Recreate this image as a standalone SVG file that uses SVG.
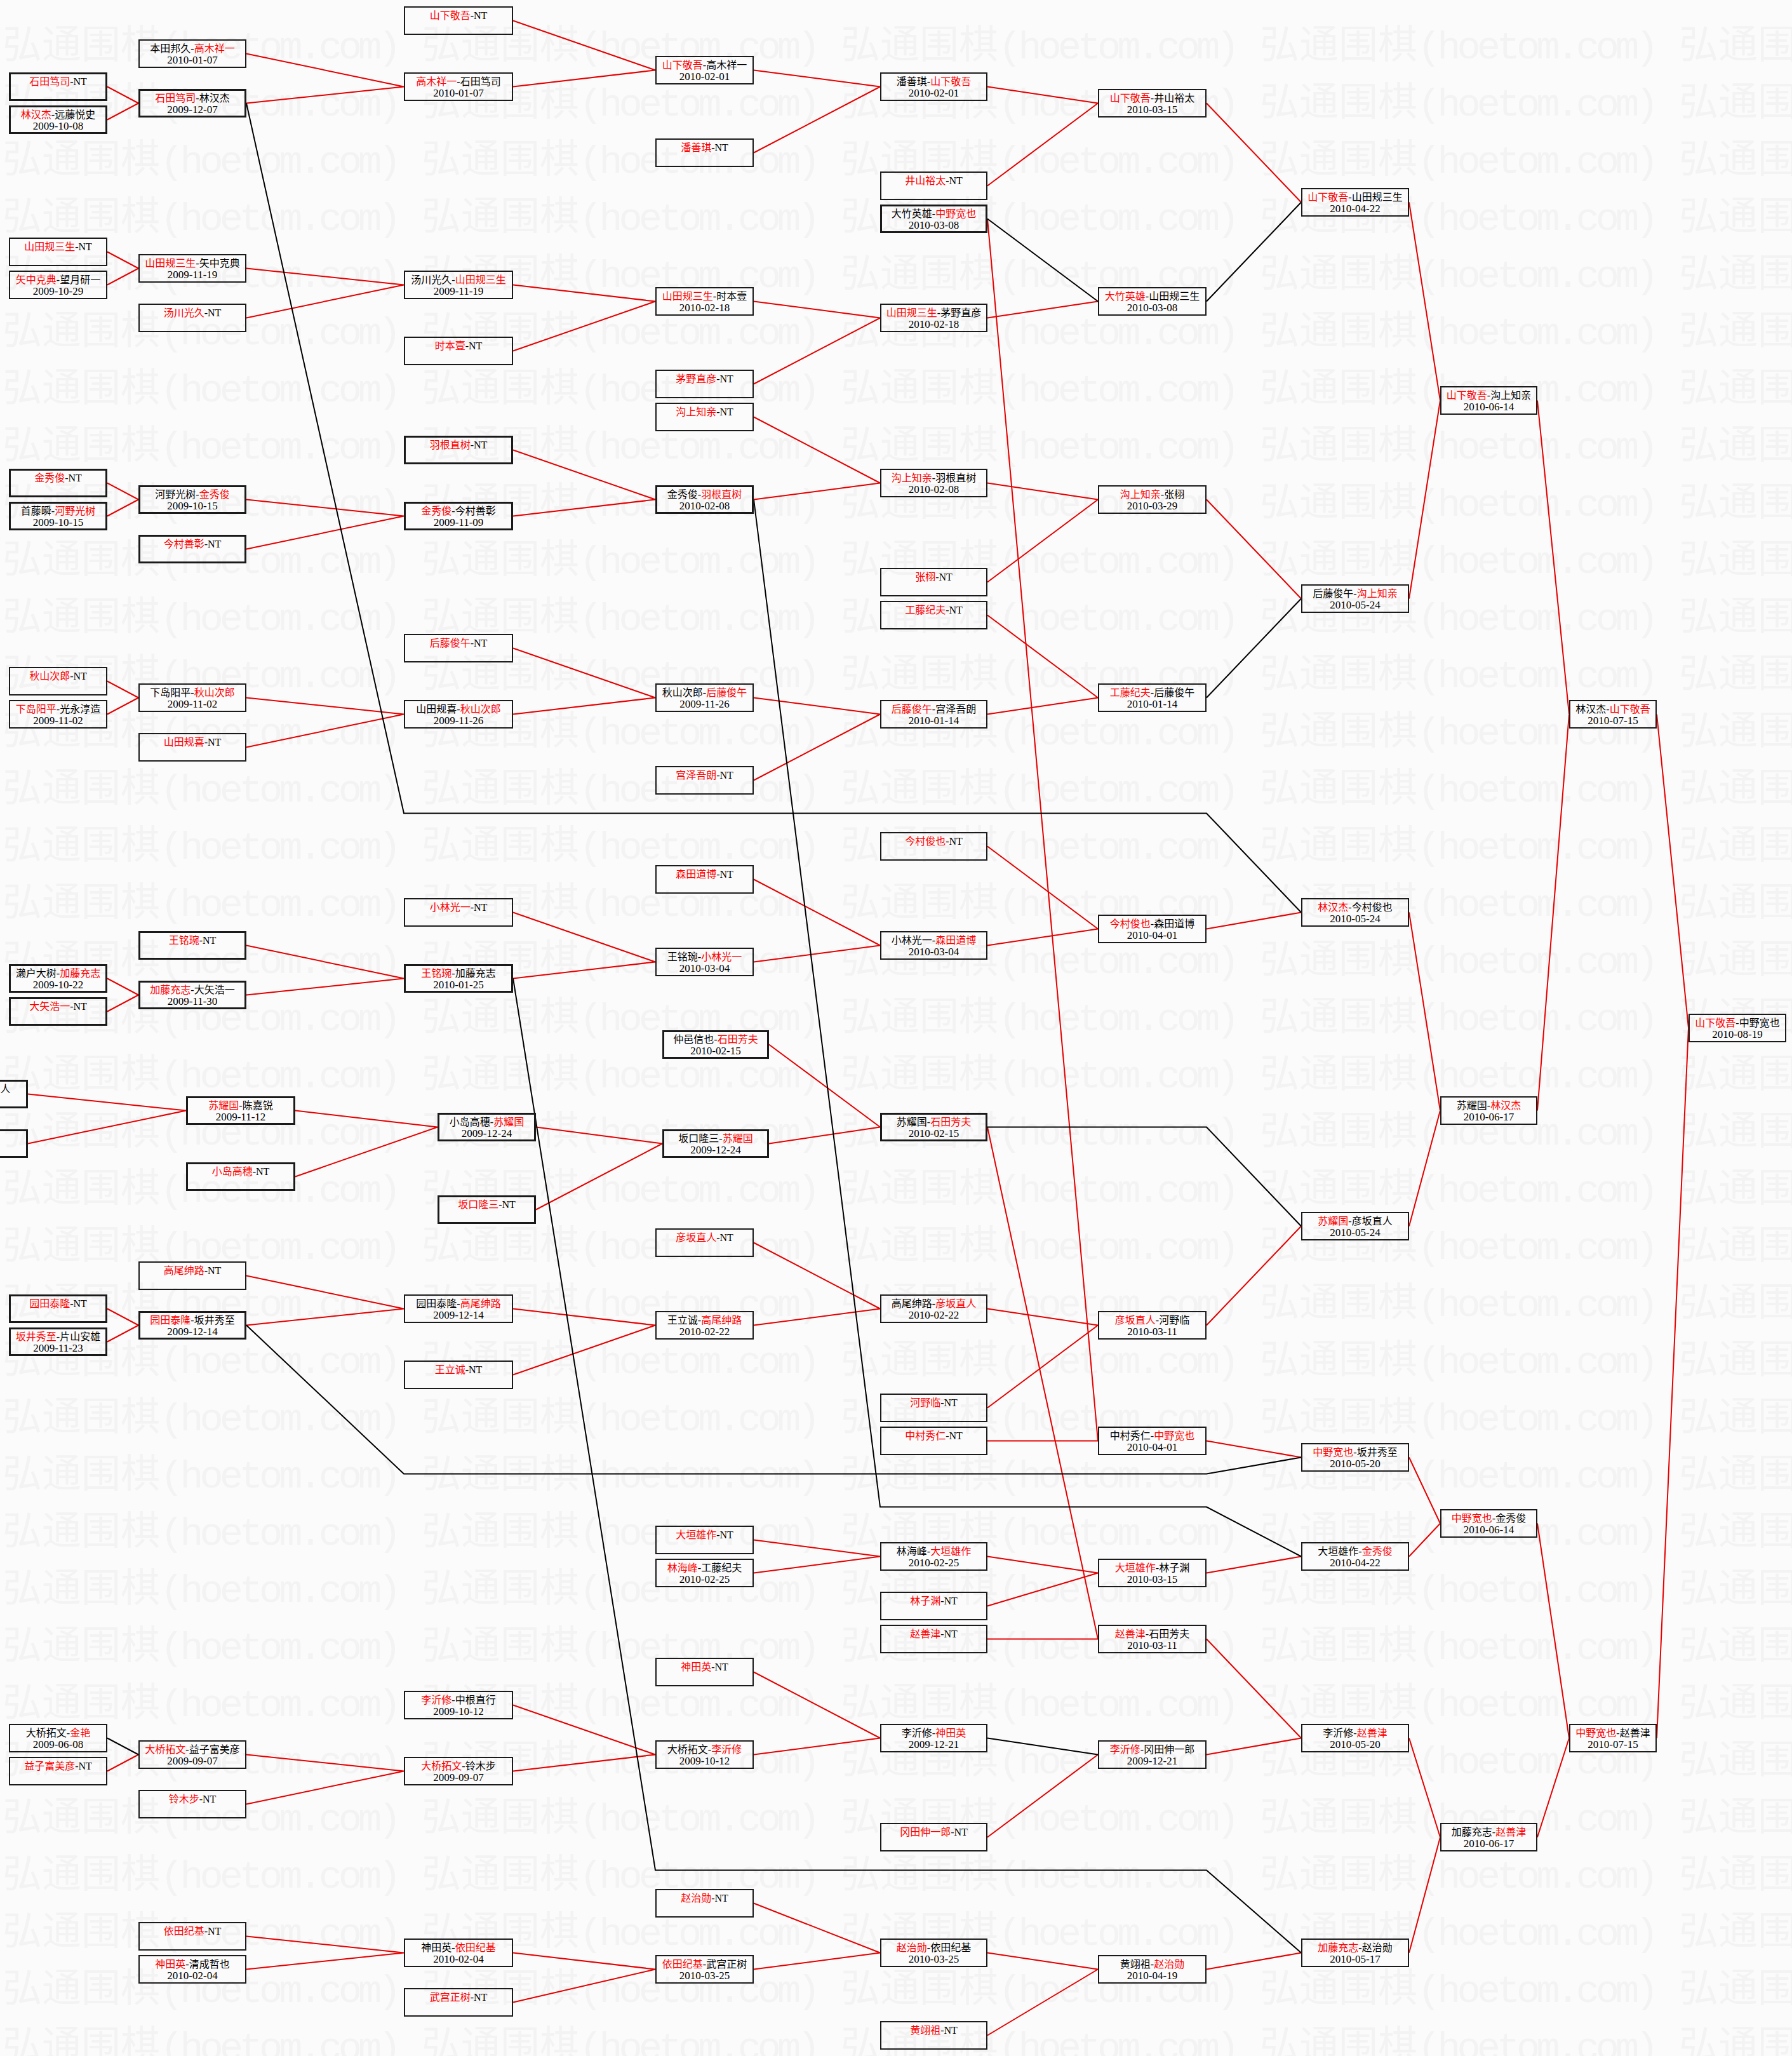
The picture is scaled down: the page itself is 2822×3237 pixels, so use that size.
<svg xmlns="http://www.w3.org/2000/svg" width="2822" height="3237" viewBox="0 0 2822 3237">
<style>
.bg{fill:#fbfbfb}
.wm{font-family:"Noto Sans CJK SC",sans-serif;font-size:62px;fill:#f3f3f3}
.wm .m{font-family:"Liberation Mono",monospace;font-size:62px;letter-spacing:-6px}
.b{fill:none;stroke:#1a1a1a;stroke-width:2}
.bb{stroke-width:3}
.t{font-family:"Liberation Serif","Noto Sans CJK SC",serif;font-size:16px;text-anchor:middle;fill:#000}
.d{font-size:17px}
.r{fill:#f00}
.lr{fill:none;stroke:#e60000;stroke-width:2}
.lk{fill:none;stroke:#000;stroke-width:2}
</style>
<defs>
<pattern id="wm" patternUnits="userSpaceOnUse" x="0" y="32" width="660" height="90">
<text class="wm" x="4" y="60">弘通围棋<tspan class="m">(hoetom.com)</tspan></text>
</pattern>
</defs>
<rect class="bg" x="0" y="0" width="2822" height="3237"/>
<rect x="0" y="32" width="2822" height="3205" fill="url(#wm)"/>

<g id="connectors">
<path class="lr" d="M169 136.5L218 162.5M169 188.5L218 162.5M388 84.5L636 136.5M388 162.5L636 136.5M808 32.5L1032 110.5M808 136.5L1032 110.5M1187 110.5L1386 136.5M1187 240.5L1386 136.5M1555 136.5L1729 162.5M1555 292.5L1729 162.5"/>
<path class="lr" d="M169 396.5L218 422.5M169 448.5L218 422.5M388 422.5L636 448.5M388 500.5L636 448.5M808 448.5L1032 474.5M808 552.5L1032 474.5M1187 474.5L1386 500.5M1187 604.5L1386 500.5M1555 500.5L1729 474.5"/>
<path class="lr" d="M169 760.5L218 786.5M169 812.5L218 786.5M388 786.5L636 812.5M388 864.5L636 812.5M808 708.5L1032 786.5M808 812.5L1032 786.5M1187 656.5L1386 760.5M1187 786.5L1386 760.5M1555 760.5L1729 786.5M1555 916.5L1729 786.5"/>
<path class="lr" d="M1900 162.5L2049 318.5M1900 786.5L2049 942.5M2219 318.5L2268 630.5M2219 942.5L2268 630.5M2421 630.5L2471 1124.5"/>
<path class="lr" d="M169 1072.5L218 1098.5M169 1124.5L218 1098.5M388 1098.5L636 1124.5M388 1176.5L636 1124.5M808 1020.5L1032 1098.5M808 1124.5L1032 1098.5M1187 1098.5L1386 1124.5M1187 1228.5L1386 1124.5M1555 968.5L1729 1098.5M1555 1124.5L1729 1098.5"/>
<path class="lr" d="M1555 1332.5L1729 1462.5M1187 1384.5L1386 1488.5M1187 1514.5L1386 1488.5M1555 1488.5L1729 1462.5M808 1436.5L1032 1514.5M808 1540.5L1032 1514.5M388 1488.5L636 1540.5M388 1566.5L636 1540.5M169 1540.5L218 1566.5M169 1592.5L218 1566.5M1900 1462.5L2049 1436.5M2219 1436.5L2268 1748.5"/>
<path class="lr" d="M44 1722.5L293 1748.5M44 1800.5L293 1748.5M465 1748.5L689 1774.5M465 1852.5L689 1774.5M844 1774.5L1043 1800.5M844 1904.5L1043 1800.5M1211 1644.5L1386 1774.5M1211 1800.5L1386 1774.5"/>
<path class="lr" d="M2421 1748.5L2471 1124.5M2609 1124.5L2659 1618.5M2219 1930.5L2268 1748.5M1900 2086.5L2049 1930.5M1555 2060.5L1729 2086.5M1555 2216.5L1729 2086.5M1187 1956.5L1386 2060.5M1187 2086.5L1386 2060.5M808 2060.5L1032 2086.5M808 2164.5L1032 2086.5M388 2008.5L636 2060.5M388 2086.5L636 2060.5M169 2060.5L218 2086.5M169 2112.5L218 2086.5"/>
<path class="lr" d="M1555 344.5L1729 2268.5M1555 2268.5L1729 2268.5M1900 2268.5L2049 2294.5M2219 2294.5L2268 2398.5M1555 1774.5L1729 2580.5M1555 2580.5L1729 2580.5"/>
<path class="lr" d="M1187 2424.5L1386 2450.5M1187 2476.5L1386 2450.5M1555 2450.5L1729 2476.5M1555 2528.5L1729 2476.5M1900 2476.5L2049 2450.5M2219 2450.5L2268 2398.5"/>
<path class="lr" d="M1900 2580.5L2049 2736.5M1900 2762.5L2049 2736.5M1555 2892.5L1729 2762.5M1187 2632.5L1386 2736.5M1187 2762.5L1386 2736.5M808 2684.5L1032 2762.5M808 2788.5L1032 2762.5M388 2762.5L636 2788.5M388 2840.5L636 2788.5M169 2788.5L218 2762.5"/>
<path class="lr" d="M388 3048.5L636 3074.5M388 3100.5L636 3074.5M808 3074.5L1032 3100.5M808 3152.5L1032 3100.5M1187 2996.5L1386 3074.5M1187 3100.5L1386 3074.5M1555 3074.5L1729 3100.5M1555 3204.5L1729 3100.5M1900 3100.5L2049 3074.5"/>
<path class="lr" d="M2219 2736.5L2268 2892.5M2219 3074.5L2268 2892.5M2421 2398.5L2471 2736.5M2421 2892.5L2471 2736.5M2609 2736.5L2659 1618.5"/>
<path class="lk" d="M1555 344.5L1729 474.5M1900 474.5L2049 318.5M1900 1098.5L2049 942.5M1555 2736.5L1729 2762.5M169 2736.5L218 2762.5"/>
<path class="lk" d="M388 162.5L636 1280.5L1900 1280.5L2049 1436.5"/>
<path class="lk" d="M1187 786.5L1386 2372.5L1900 2372.5L2049 2450.5"/>
<path class="lk" d="M1555 1774.5L1900 1774.5L2049 1930.5"/>
<path class="lk" d="M808 1540.5L1032 2944.5L1900 2944.5L2049 3074.5"/>
<path class="lk" d="M388 2086.5L636 2320.5L1900 2320.5L2049 2294.5"/>
</g>

<g id="A1"><rect class="b bb" x="15.5" y="115.5" width="152" height="42"/><text class="t" x="91.5" y="134"><tspan class="r">石田笃司</tspan>-NT</text></g>
<g id="A2"><rect class="b bb" x="15.5" y="167.5" width="152" height="42"/><text class="t" x="91.5" y="186"><tspan class="r">林汉杰</tspan>-远藤悦史</text><text class="t d" x="91.5" y="204">2009-10-08</text></g>
<g id="A3"><rect class="b" x="15" y="375" width="153" height="43"/><text class="t" x="91.5" y="394"><tspan class="r">山田规三生</tspan>-NT</text></g>
<g id="A4"><rect class="b" x="15" y="427" width="153" height="43"/><text class="t" x="91.5" y="446"><tspan class="r">矢中克典</tspan>-望月研一</text><text class="t d" x="91.5" y="464">2009-10-29</text></g>
<g id="A5"><rect class="b bb" x="15.5" y="739.5" width="152" height="42"/><text class="t" x="91.5" y="758"><tspan class="r">金秀俊</tspan>-NT</text></g>
<g id="A6"><rect class="b bb" x="15.5" y="791.5" width="152" height="42"/><text class="t" x="91.5" y="810">首藤瞬-<tspan class="r">河野光树</tspan></text><text class="t d" x="91.5" y="828">2009-10-15</text></g>
<g id="A7"><rect class="b" x="15" y="1051" width="153" height="43"/><text class="t" x="91.5" y="1070"><tspan class="r">秋山次郎</tspan>-NT</text></g>
<g id="A8"><rect class="b" x="15" y="1103" width="153" height="43"/><text class="t" x="91.5" y="1122"><tspan class="r">下岛阳平</tspan>-光永淳造</text><text class="t d" x="91.5" y="1140">2009-11-02</text></g>
<g id="A9"><rect class="b bb" x="15.5" y="1519.5" width="152" height="42"/><text class="t" x="91.5" y="1538">濑户大树-<tspan class="r">加藤充志</tspan></text><text class="t d" x="91.5" y="1556">2009-10-22</text></g>
<g id="A10"><rect class="b bb" x="15.5" y="1571.5" width="152" height="42"/><text class="t" x="91.5" y="1590"><tspan class="r">大矢浩一</tspan>-NT</text></g>
<g id="A11"><rect class="b bb" x="-109.5" y="1701.5" width="152" height="42"/><text class="t" x="8.5" y="1720">人</text></g>
<g id="A12"><rect class="b bb" x="-109.5" y="1779.5" width="152" height="42"/></g>
<g id="A13"><rect class="b bb" x="15.5" y="2039.5" width="152" height="42"/><text class="t" x="91.5" y="2058"><tspan class="r">园田泰隆</tspan>-NT</text></g>
<g id="A14"><rect class="b bb" x="15.5" y="2091.5" width="152" height="42"/><text class="t" x="91.5" y="2110"><tspan class="r">坂井秀至</tspan>-片山安雄</text><text class="t d" x="91.5" y="2128">2009-11-23</text></g>
<g id="A15"><rect class="b" x="15" y="2715" width="153" height="43"/><text class="t" x="91.5" y="2734">大桥拓文-<tspan class="r">金艳</tspan></text><text class="t d" x="91.5" y="2752">2009-06-08</text></g>
<g id="A16"><rect class="b" x="15" y="2767" width="153" height="43"/><text class="t" x="91.5" y="2786"><tspan class="r">益子富美彦</tspan>-NT</text></g>

<g id="B1"><rect class="b" x="219" y="63" width="168" height="43"/><text class="t" x="303" y="82">本田邦久-<tspan class="r">高木祥一</tspan></text><text class="t d" x="303" y="100">2010-01-07</text></g>
<g id="B2"><rect class="b bb" x="219.5" y="141.5" width="167" height="42"/><text class="t" x="303" y="160"><tspan class="r">石田笃司</tspan>-林汉杰</text><text class="t d" x="303" y="178">2009-12-07</text></g>
<g id="B3"><rect class="b" x="219" y="401" width="168" height="43"/><text class="t" x="303" y="420"><tspan class="r">山田规三生</tspan>-矢中克典</text><text class="t d" x="303" y="438">2009-11-19</text></g>
<g id="B4"><rect class="b" x="219" y="479" width="168" height="43"/><text class="t" x="303" y="498"><tspan class="r">汤川光久</tspan>-NT</text></g>
<g id="B5"><rect class="b bb" x="219.5" y="765.5" width="167" height="42"/><text class="t" x="303" y="784">河野光树-<tspan class="r">金秀俊</tspan></text><text class="t d" x="303" y="802">2009-10-15</text></g>
<g id="B6"><rect class="b bb" x="219.5" y="843.5" width="167" height="42"/><text class="t" x="303" y="862"><tspan class="r">今村善彰</tspan>-NT</text></g>
<g id="B7"><rect class="b" x="219" y="1077" width="168" height="43"/><text class="t" x="303" y="1096">下岛阳平-<tspan class="r">秋山次郎</tspan></text><text class="t d" x="303" y="1114">2009-11-02</text></g>
<g id="B8"><rect class="b" x="219" y="1155" width="168" height="43"/><text class="t" x="303" y="1174"><tspan class="r">山田规喜</tspan>-NT</text></g>
<g id="B9"><rect class="b bb" x="219.5" y="1467.5" width="167" height="42"/><text class="t" x="303" y="1486"><tspan class="r">王铭琬</tspan>-NT</text></g>
<g id="B10"><rect class="b bb" x="219.5" y="1545.5" width="167" height="42"/><text class="t" x="303" y="1564"><tspan class="r">加藤充志</tspan>-大矢浩一</text><text class="t d" x="303" y="1582">2009-11-30</text></g>
<g id="B11"><rect class="b bb" x="294.5" y="1727.5" width="169" height="42"/><text class="t" x="379" y="1746"><tspan class="r">苏耀国</tspan>-陈嘉锐</text><text class="t d" x="379" y="1764">2009-11-12</text></g>
<g id="B12"><rect class="b bb" x="294.5" y="1831.5" width="169" height="42"/><text class="t" x="379" y="1850"><tspan class="r">小岛高穗</tspan>-NT</text></g>
<g id="B13"><rect class="b" x="219" y="1987" width="168" height="43"/><text class="t" x="303" y="2006"><tspan class="r">高尾绅路</tspan>-NT</text></g>
<g id="B14"><rect class="b bb" x="219.5" y="2065.5" width="167" height="42"/><text class="t" x="303" y="2084"><tspan class="r">园田泰隆</tspan>-坂井秀至</text><text class="t d" x="303" y="2102">2009-12-14</text></g>
<g id="B15"><rect class="b" x="219" y="2741" width="168" height="43"/><text class="t" x="303" y="2760"><tspan class="r">大桥拓文</tspan>-益子富美彦</text><text class="t d" x="303" y="2778">2009-09-07</text></g>
<g id="B16"><rect class="b" x="219" y="2819" width="168" height="43"/><text class="t" x="303" y="2838"><tspan class="r">铃木步</tspan>-NT</text></g>
<g id="B17"><rect class="b" x="219" y="3027" width="168" height="43"/><text class="t" x="303" y="3046"><tspan class="r">依田纪基</tspan>-NT</text></g>
<g id="B18"><rect class="b" x="219" y="3079" width="168" height="43"/><text class="t" x="303" y="3098"><tspan class="r">神田英</tspan>-清成哲也</text><text class="t d" x="303" y="3116">2010-02-04</text></g>

<g id="C1"><rect class="b" x="637" y="11" width="170" height="43"/><text class="t" x="722" y="30"><tspan class="r">山下敬吾</tspan>-NT</text></g>
<g id="C2"><rect class="b" x="637" y="115" width="170" height="43"/><text class="t" x="722" y="134"><tspan class="r">高木祥一</tspan>-石田笃司</text><text class="t d" x="722" y="152">2010-01-07</text></g>
<g id="C3"><rect class="b" x="637" y="427" width="170" height="43"/><text class="t" x="722" y="446">汤川光久-<tspan class="r">山田规三生</tspan></text><text class="t d" x="722" y="464">2009-11-19</text></g>
<g id="C4"><rect class="b" x="637" y="531" width="170" height="43"/><text class="t" x="722" y="550"><tspan class="r">时本壹</tspan>-NT</text></g>
<g id="C5"><rect class="b bb" x="637.5" y="687.5" width="169" height="42"/><text class="t" x="722" y="706"><tspan class="r">羽根直树</tspan>-NT</text></g>
<g id="C6"><rect class="b bb" x="637.5" y="791.5" width="169" height="42"/><text class="t" x="722" y="810"><tspan class="r">金秀俊</tspan>-今村善彰</text><text class="t d" x="722" y="828">2009-11-09</text></g>
<g id="C7"><rect class="b" x="637" y="999" width="170" height="43"/><text class="t" x="722" y="1018"><tspan class="r">后藤俊午</tspan>-NT</text></g>
<g id="C8"><rect class="b" x="637" y="1103" width="170" height="43"/><text class="t" x="722" y="1122">山田规喜-<tspan class="r">秋山次郎</tspan></text><text class="t d" x="722" y="1140">2009-11-26</text></g>
<g id="C9"><rect class="b" x="637" y="1415" width="170" height="43"/><text class="t" x="722" y="1434"><tspan class="r">小林光一</tspan>-NT</text></g>
<g id="C10"><rect class="b bb" x="637.5" y="1519.5" width="169" height="42"/><text class="t" x="722" y="1538"><tspan class="r">王铭琬</tspan>-加藤充志</text><text class="t d" x="722" y="1556">2010-01-25</text></g>
<g id="C11"><rect class="b bb" x="690.5" y="1753.5" width="152" height="42"/><text class="t" x="766.5" y="1772">小岛高穗-<tspan class="r">苏耀国</tspan></text><text class="t d" x="766.5" y="1790">2009-12-24</text></g>
<g id="C12"><rect class="b bb" x="690.5" y="1883.5" width="152" height="42"/><text class="t" x="766.5" y="1902"><tspan class="r">坂口隆三</tspan>-NT</text></g>
<g id="C13"><rect class="b" x="637" y="2039" width="170" height="43"/><text class="t" x="722" y="2058">园田泰隆-<tspan class="r">高尾绅路</tspan></text><text class="t d" x="722" y="2076">2009-12-14</text></g>
<g id="C14"><rect class="b" x="637" y="2143" width="170" height="43"/><text class="t" x="722" y="2162"><tspan class="r">王立诚</tspan>-NT</text></g>
<g id="C15"><rect class="b" x="637" y="2663" width="170" height="43"/><text class="t" x="722" y="2682"><tspan class="r">李沂修</tspan>-中根直行</text><text class="t d" x="722" y="2700">2009-10-12</text></g>
<g id="C16"><rect class="b" x="637" y="2767" width="170" height="43"/><text class="t" x="722" y="2786"><tspan class="r">大桥拓文</tspan>-铃木步</text><text class="t d" x="722" y="2804">2009-09-07</text></g>
<g id="C17"><rect class="b" x="637" y="3053" width="170" height="43"/><text class="t" x="722" y="3072">神田英-<tspan class="r">依田纪基</tspan></text><text class="t d" x="722" y="3090">2010-02-04</text></g>
<g id="C18"><rect class="b" x="637" y="3131" width="170" height="43"/><text class="t" x="722" y="3150"><tspan class="r">武宫正树</tspan>-NT</text></g>

<g id="D1"><rect class="b" x="1033" y="89" width="153" height="43"/><text class="t" x="1109.5" y="108"><tspan class="r">山下敬吾</tspan>-高木祥一</text><text class="t d" x="1109.5" y="126">2010-02-01</text></g>
<g id="D2"><rect class="b" x="1033" y="219" width="153" height="43"/><text class="t" x="1109.5" y="238"><tspan class="r">潘善琪</tspan>-NT</text></g>
<g id="D3"><rect class="b" x="1033" y="453" width="153" height="43"/><text class="t" x="1109.5" y="472"><tspan class="r">山田规三生</tspan>-时本壹</text><text class="t d" x="1109.5" y="490">2010-02-18</text></g>
<g id="D4"><rect class="b" x="1033" y="583" width="153" height="43"/><text class="t" x="1109.5" y="602"><tspan class="r">茅野直彦</tspan>-NT</text></g>
<g id="D5"><rect class="b" x="1033" y="635" width="153" height="43"/><text class="t" x="1109.5" y="654"><tspan class="r">沟上知亲</tspan>-NT</text></g>
<g id="D6"><rect class="b bb" x="1033.5" y="765.5" width="152" height="42"/><text class="t" x="1109.5" y="784">金秀俊-<tspan class="r">羽根直树</tspan></text><text class="t d" x="1109.5" y="802">2010-02-08</text></g>
<g id="D7"><rect class="b" x="1033" y="1077" width="153" height="43"/><text class="t" x="1109.5" y="1096">秋山次郎-<tspan class="r">后藤俊午</tspan></text><text class="t d" x="1109.5" y="1114">2009-11-26</text></g>
<g id="D8"><rect class="b" x="1033" y="1207" width="153" height="43"/><text class="t" x="1109.5" y="1226"><tspan class="r">宫泽吾朗</tspan>-NT</text></g>
<g id="D9"><rect class="b" x="1033" y="1363" width="153" height="43"/><text class="t" x="1109.5" y="1382"><tspan class="r">森田道博</tspan>-NT</text></g>
<g id="D10"><rect class="b" x="1033" y="1493" width="153" height="43"/><text class="t" x="1109.5" y="1512">王铭琬-<tspan class="r">小林光一</tspan></text><text class="t d" x="1109.5" y="1530">2010-03-04</text></g>
<g id="D11"><rect class="b bb" x="1044.5" y="1623.5" width="165" height="42"/><text class="t" x="1127" y="1642">仲邑信也-<tspan class="r">石田芳夫</tspan></text><text class="t d" x="1127" y="1660">2010-02-15</text></g>
<g id="D12"><rect class="b bb" x="1044.5" y="1779.5" width="165" height="42"/><text class="t" x="1127" y="1798">坂口隆三-<tspan class="r">苏耀国</tspan></text><text class="t d" x="1127" y="1816">2009-12-24</text></g>
<g id="D13"><rect class="b" x="1033" y="1935" width="153" height="43"/><text class="t" x="1109.5" y="1954"><tspan class="r">彦坂直人</tspan>-NT</text></g>
<g id="D14"><rect class="b" x="1033" y="2065" width="153" height="43"/><text class="t" x="1109.5" y="2084">王立诚-<tspan class="r">高尾绅路</tspan></text><text class="t d" x="1109.5" y="2102">2010-02-22</text></g>
<g id="D15"><rect class="b" x="1033" y="2403" width="153" height="43"/><text class="t" x="1109.5" y="2422"><tspan class="r">大垣雄作</tspan>-NT</text></g>
<g id="D16"><rect class="b" x="1033" y="2455" width="153" height="43"/><text class="t" x="1109.5" y="2474"><tspan class="r">林海峰</tspan>-工藤纪夫</text><text class="t d" x="1109.5" y="2492">2010-02-25</text></g>
<g id="D17"><rect class="b" x="1033" y="2611" width="153" height="43"/><text class="t" x="1109.5" y="2630"><tspan class="r">神田英</tspan>-NT</text></g>
<g id="D18"><rect class="b" x="1033" y="2741" width="153" height="43"/><text class="t" x="1109.5" y="2760">大桥拓文-<tspan class="r">李沂修</tspan></text><text class="t d" x="1109.5" y="2778">2009-10-12</text></g>
<g id="D19"><rect class="b" x="1033" y="2975" width="153" height="43"/><text class="t" x="1109.5" y="2994"><tspan class="r">赵治勋</tspan>-NT</text></g>
<g id="D20"><rect class="b" x="1033" y="3079" width="153" height="43"/><text class="t" x="1109.5" y="3098"><tspan class="r">依田纪基</tspan>-武宫正树</text><text class="t d" x="1109.5" y="3116">2010-03-25</text></g>

<g id="E1"><rect class="b" x="1387" y="115" width="167" height="43"/><text class="t" x="1470.5" y="134">潘善琪-<tspan class="r">山下敬吾</tspan></text><text class="t d" x="1470.5" y="152">2010-02-01</text></g>
<g id="E2"><rect class="b" x="1387" y="271" width="167" height="43"/><text class="t" x="1470.5" y="290"><tspan class="r">井山裕太</tspan>-NT</text></g>
<g id="E3"><rect class="b bb" x="1387.5" y="323.5" width="166" height="42"/><text class="t" x="1470.5" y="342">大竹英雄-<tspan class="r">中野宽也</tspan></text><text class="t d" x="1470.5" y="360">2010-03-08</text></g>
<g id="E4"><rect class="b" x="1387" y="479" width="167" height="43"/><text class="t" x="1470.5" y="498"><tspan class="r">山田规三生</tspan>-茅野直彦</text><text class="t d" x="1470.5" y="516">2010-02-18</text></g>
<g id="E5"><rect class="b" x="1387" y="739" width="167" height="43"/><text class="t" x="1470.5" y="758"><tspan class="r">沟上知亲</tspan>-羽根直树</text><text class="t d" x="1470.5" y="776">2010-02-08</text></g>
<g id="E6"><rect class="b" x="1387" y="895" width="167" height="43"/><text class="t" x="1470.5" y="914"><tspan class="r">张栩</tspan>-NT</text></g>
<g id="E7"><rect class="b" x="1387" y="947" width="167" height="43"/><text class="t" x="1470.5" y="966"><tspan class="r">工藤纪夫</tspan>-NT</text></g>
<g id="E8"><rect class="b" x="1387" y="1103" width="167" height="43"/><text class="t" x="1470.5" y="1122"><tspan class="r">后藤俊午</tspan>-宫泽吾朗</text><text class="t d" x="1470.5" y="1140">2010-01-14</text></g>
<g id="E9"><rect class="b" x="1387" y="1311" width="167" height="43"/><text class="t" x="1470.5" y="1330"><tspan class="r">今村俊也</tspan>-NT</text></g>
<g id="E10"><rect class="b" x="1387" y="1467" width="167" height="43"/><text class="t" x="1470.5" y="1486">小林光一-<tspan class="r">森田道博</tspan></text><text class="t d" x="1470.5" y="1504">2010-03-04</text></g>
<g id="E11"><rect class="b bb" x="1387.5" y="1753.5" width="166" height="42"/><text class="t" x="1470.5" y="1772">苏耀国-<tspan class="r">石田芳夫</tspan></text><text class="t d" x="1470.5" y="1790">2010-02-15</text></g>
<g id="E12"><rect class="b" x="1387" y="2039" width="167" height="43"/><text class="t" x="1470.5" y="2058">高尾绅路-<tspan class="r">彦坂直人</tspan></text><text class="t d" x="1470.5" y="2076">2010-02-22</text></g>
<g id="E13"><rect class="b" x="1387" y="2195" width="167" height="43"/><text class="t" x="1470.5" y="2214"><tspan class="r">河野临</tspan>-NT</text></g>
<g id="E14"><rect class="b" x="1387" y="2247" width="167" height="43"/><text class="t" x="1470.5" y="2266"><tspan class="r">中村秀仁</tspan>-NT</text></g>
<g id="E15"><rect class="b" x="1387" y="2429" width="167" height="43"/><text class="t" x="1470.5" y="2448">林海峰-<tspan class="r">大垣雄作</tspan></text><text class="t d" x="1470.5" y="2466">2010-02-25</text></g>
<g id="E16"><rect class="b" x="1387" y="2507" width="167" height="43"/><text class="t" x="1470.5" y="2526"><tspan class="r">林子渊</tspan>-NT</text></g>
<g id="E17"><rect class="b" x="1387" y="2559" width="167" height="43"/><text class="t" x="1470.5" y="2578"><tspan class="r">赵善津</tspan>-NT</text></g>
<g id="E18"><rect class="b" x="1387" y="2715" width="167" height="43"/><text class="t" x="1470.5" y="2734">李沂修-<tspan class="r">神田英</tspan></text><text class="t d" x="1470.5" y="2752">2009-12-21</text></g>
<g id="E19"><rect class="b" x="1387" y="2871" width="167" height="43"/><text class="t" x="1470.5" y="2890"><tspan class="r">冈田伸一郎</tspan>-NT</text></g>
<g id="E20"><rect class="b" x="1387" y="3053" width="167" height="43"/><text class="t" x="1470.5" y="3072"><tspan class="r">赵治勋</tspan>-依田纪基</text><text class="t d" x="1470.5" y="3090">2010-03-25</text></g>
<g id="E21"><rect class="b" x="1387" y="3183" width="167" height="43"/><text class="t" x="1470.5" y="3202"><tspan class="r">黄翊祖</tspan>-NT</text></g>

<g id="F1"><rect class="b" x="1730" y="141" width="169" height="43"/><text class="t" x="1814.5" y="160"><tspan class="r">山下敬吾</tspan>-井山裕太</text><text class="t d" x="1814.5" y="178">2010-03-15</text></g>
<g id="F2"><rect class="b" x="1730" y="453" width="169" height="43"/><text class="t" x="1814.5" y="472"><tspan class="r">大竹英雄</tspan>-山田规三生</text><text class="t d" x="1814.5" y="490">2010-03-08</text></g>
<g id="F3"><rect class="b" x="1730" y="765" width="169" height="43"/><text class="t" x="1814.5" y="784"><tspan class="r">沟上知亲</tspan>-张栩</text><text class="t d" x="1814.5" y="802">2010-03-29</text></g>
<g id="F4"><rect class="b" x="1730" y="1077" width="169" height="43"/><text class="t" x="1814.5" y="1096"><tspan class="r">工藤纪夫</tspan>-后藤俊午</text><text class="t d" x="1814.5" y="1114">2010-01-14</text></g>
<g id="F5"><rect class="b" x="1730" y="1441" width="169" height="43"/><text class="t" x="1814.5" y="1460"><tspan class="r">今村俊也</tspan>-森田道博</text><text class="t d" x="1814.5" y="1478">2010-04-01</text></g>
<g id="F6"><rect class="b" x="1730" y="2065" width="169" height="43"/><text class="t" x="1814.5" y="2084"><tspan class="r">彦坂直人</tspan>-河野临</text><text class="t d" x="1814.5" y="2102">2010-03-11</text></g>
<g id="F7"><rect class="b" x="1730" y="2247" width="169" height="43"/><text class="t" x="1814.5" y="2266">中村秀仁-<tspan class="r">中野宽也</tspan></text><text class="t d" x="1814.5" y="2284">2010-04-01</text></g>
<g id="F8"><rect class="b" x="1730" y="2455" width="169" height="43"/><text class="t" x="1814.5" y="2474"><tspan class="r">大垣雄作</tspan>-林子渊</text><text class="t d" x="1814.5" y="2492">2010-03-15</text></g>
<g id="F9"><rect class="b" x="1730" y="2559" width="169" height="43"/><text class="t" x="1814.5" y="2578"><tspan class="r">赵善津</tspan>-石田芳夫</text><text class="t d" x="1814.5" y="2596">2010-03-11</text></g>
<g id="F10"><rect class="b" x="1730" y="2741" width="169" height="43"/><text class="t" x="1814.5" y="2760"><tspan class="r">李沂修</tspan>-冈田伸一郎</text><text class="t d" x="1814.5" y="2778">2009-12-21</text></g>
<g id="F11"><rect class="b" x="1730" y="3079" width="169" height="43"/><text class="t" x="1814.5" y="3098">黄翊祖-<tspan class="r">赵治勋</tspan></text><text class="t d" x="1814.5" y="3116">2010-04-19</text></g>

<g id="G1"><rect class="b" x="2050" y="297" width="168" height="43"/><text class="t" x="2134" y="316"><tspan class="r">山下敬吾</tspan>-山田规三生</text><text class="t d" x="2134" y="334">2010-04-22</text></g>
<g id="G2"><rect class="b" x="2050" y="921" width="168" height="43"/><text class="t" x="2134" y="940">后藤俊午-<tspan class="r">沟上知亲</tspan></text><text class="t d" x="2134" y="958">2010-05-24</text></g>
<g id="G3"><rect class="b" x="2050" y="1415" width="168" height="43"/><text class="t" x="2134" y="1434"><tspan class="r">林汉杰</tspan>-今村俊也</text><text class="t d" x="2134" y="1452">2010-05-24</text></g>
<g id="G4"><rect class="b" x="2050" y="1909" width="168" height="43"/><text class="t" x="2134" y="1928"><tspan class="r">苏耀国</tspan>-彦坂直人</text><text class="t d" x="2134" y="1946">2010-05-24</text></g>
<g id="G5"><rect class="b" x="2050" y="2273" width="168" height="43"/><text class="t" x="2134" y="2292"><tspan class="r">中野宽也</tspan>-坂井秀至</text><text class="t d" x="2134" y="2310">2010-05-20</text></g>
<g id="G6"><rect class="b" x="2050" y="2429" width="168" height="43"/><text class="t" x="2134" y="2448">大垣雄作-<tspan class="r">金秀俊</tspan></text><text class="t d" x="2134" y="2466">2010-04-22</text></g>
<g id="G7"><rect class="b" x="2050" y="2715" width="168" height="43"/><text class="t" x="2134" y="2734">李沂修-<tspan class="r">赵善津</tspan></text><text class="t d" x="2134" y="2752">2010-05-20</text></g>
<g id="G8"><rect class="b" x="2050" y="3053" width="168" height="43"/><text class="t" x="2134" y="3072"><tspan class="r">加藤充志</tspan>-赵治勋</text><text class="t d" x="2134" y="3090">2010-05-17</text></g>

<g id="H1"><rect class="b" x="2269" y="609" width="151" height="43"/><text class="t" x="2344.5" y="628"><tspan class="r">山下敬吾</tspan>-沟上知亲</text><text class="t d" x="2344.5" y="646">2010-06-14</text></g>
<g id="H2"><rect class="b" x="2269" y="1727" width="151" height="43"/><text class="t" x="2344.5" y="1746">苏耀国-<tspan class="r">林汉杰</tspan></text><text class="t d" x="2344.5" y="1764">2010-06-17</text></g>
<g id="H3"><rect class="b" x="2269" y="2377" width="151" height="43"/><text class="t" x="2344.5" y="2396"><tspan class="r">中野宽也</tspan>-金秀俊</text><text class="t d" x="2344.5" y="2414">2010-06-14</text></g>
<g id="H4"><rect class="b" x="2269" y="2871" width="151" height="43"/><text class="t" x="2344.5" y="2890">加藤充志-<tspan class="r">赵善津</tspan></text><text class="t d" x="2344.5" y="2908">2010-06-17</text></g>

<g id="I1"><rect class="b" x="2472" y="1103" width="136" height="43"/><text class="t" x="2540" y="1122">林汉杰-<tspan class="r">山下敬吾</tspan></text><text class="t d" x="2540" y="1140">2010-07-15</text></g>
<g id="I2"><rect class="b" x="2472" y="2715" width="136" height="43"/><text class="t" x="2540" y="2734"><tspan class="r">中野宽也</tspan>-赵善津</text><text class="t d" x="2540" y="2752">2010-07-15</text></g>

<g id="J1"><rect class="b" x="2660" y="1597" width="152" height="43"/><text class="t" x="2736" y="1616"><tspan class="r">山下敬吾</tspan>-中野宽也</text><text class="t d" x="2736" y="1634">2010-08-19</text></g>
</svg>
